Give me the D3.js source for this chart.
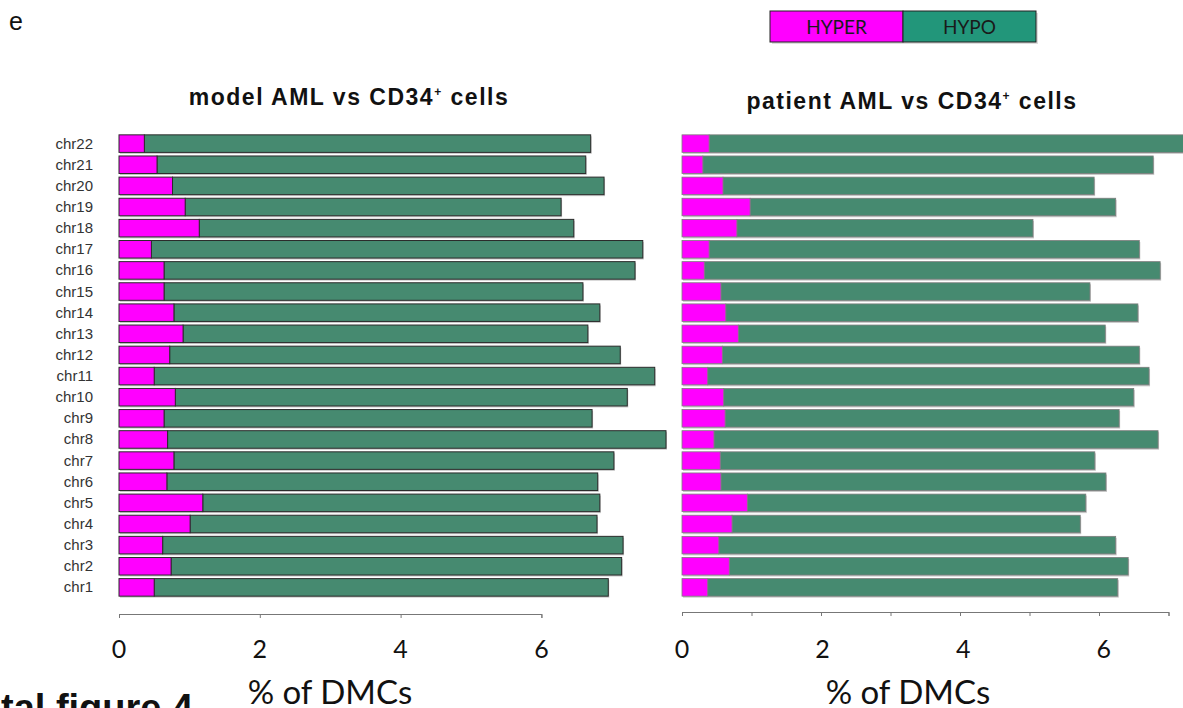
<!DOCTYPE html>
<html><head><meta charset="utf-8">
<script src="https://cdn.jsdelivr.net/npm/d3@7"></script>
<style>
html,body{margin:0;padding:0;background:#fff;overflow:hidden;}
svg{display:block;}
</style></head>
<body>
<svg id="c" width="1183" height="708"></svg>
<script>
// ---- data ----
const chromosomes = ["chr22","chr21","chr20","chr19","chr18","chr17","chr16","chr15","chr14","chr13","chr12","chr11","chr10","chr9","chr8","chr7","chr6","chr5","chr4","chr3","chr2","chr1"];
const seriesNames = ["HYPER","HYPO"];
// model AML vs CD34+ cells (% of DMCs)
const modelHyper = [0.36,0.54,0.76,0.94,1.14,0.46,0.64,0.64,0.78,0.91,0.72,0.50,0.80,0.64,0.69,0.78,0.68,1.19,1.01,0.62,0.74,0.50];
const modelTotal = [6.70,6.63,6.89,6.28,6.46,7.44,7.33,6.59,6.83,6.66,7.12,7.61,7.22,6.72,7.77,7.03,6.80,6.83,6.79,7.16,7.14,6.95];
// patient AML vs CD34+ cells (% of DMCs)
const patientHyper = [0.39,0.30,0.59,0.98,0.79,0.39,0.32,0.56,0.63,0.81,0.58,0.37,0.60,0.62,0.46,0.55,0.56,0.94,0.72,0.53,0.68,0.37];
const patientTotal = [7.40,6.78,5.93,6.24,5.05,6.58,6.88,5.87,6.56,6.09,6.58,6.72,6.50,6.29,6.85,5.94,6.10,5.81,5.73,6.24,6.42,6.27];
const modelHypo = modelTotal.map((t,i)=>+(t-modelHyper[i]).toFixed(2));
const patientHypo = patientTotal.map((t,i)=>+(t-patientHyper[i]).toFixed(2));
const leftTicks = [0,2,4,6];
const rightTicks = [0,1,2,3,4,5,6,7];
const rightTickLabels = [0,2,4,6];
const titles = ["model AML vs CD34", "patient AML vs CD34"];
const xTitle = "% of DMCs";

const svg = d3.select("#c");
const colHyper = "#ff00ff", colHypo = "#468a70", colLegHypo = "#22967a";

// panel label
svg.append("text").attr("x",9).attr("y",30).attr("font-family","Liberation Sans, Arial, sans-serif")
  .attr("font-size",25).attr("fill","#111").text("e");

// legend
const leg = svg.append("g");
const lx = d3.scaleBand().domain(seriesNames).range([770,1036]);
leg.append("rect").attr("x",772).attr("y",13).attr("width",266).attr("height",31).attr("fill","#bbb").attr("opacity",0.5);
leg.selectAll("rect.l").data(seriesNames).join("rect").attr("class","l")
  .attr("x",d=>lx(d)).attr("y",11).attr("width",lx.bandwidth()).attr("height",31)
  .attr("fill",(d,i)=>i===0?colHyper:colLegHypo).attr("stroke","#222").attr("stroke-width",1);
leg.selectAll("text").data(seriesNames).join("text")
  .attr("x",d=>lx(d)+lx.bandwidth()/2).attr("y",34).attr("text-anchor","middle")
  .attr("font-family","Lato, 'Open Sans', sans-serif").attr("font-size",19).attr("fill","#1a1a1a").text(d=>d);

function panel(cfg){
  const g = svg.append("g");
  const x = d3.scaleLinear().domain([0,cfg.axisMax]).range([cfg.x0, cfg.x0+cfg.unit*cfg.axisMax]);
  const y = d3.scaleBand().domain(chromosomes).range([134,597]).paddingInner(0.17).paddingOuter(0.04);
  const rows = chromosomes.map((c,i)=>({c, hyper:cfg.hyper[i], hypo:cfg.hypo[i]}));
  // shadows
  g.selectAll("rect.sh").data(rows).join("rect").attr("class","sh")
    .attr("x",d=>x(0)+1).attr("y",d=>y(d.c)+1.5)
    .attr("width",d=>x(d.hyper+d.hypo)-x(0)).attr("height",y.bandwidth())
    .attr("fill","#c8c8c8");
  // hypo
  g.selectAll("rect.hypo").data(rows).join("rect").attr("class","hypo")
    .attr("x",d=>x(d.hyper)).attr("y",d=>y(d.c))
    .attr("width",d=>x(d.hyper+d.hypo)-x(d.hyper)).attr("height",y.bandwidth())
    .attr("fill",colHypo).attr("stroke",cfg.stroke).attr("stroke-width",cfg.sw);
  // hyper
  g.selectAll("rect.hyper").data(rows).join("rect").attr("class","hyper")
    .attr("x",x(0)).attr("y",d=>y(d.c))
    .attr("width",d=>x(d.hyper)-x(0)).attr("height",y.bandwidth())
    .attr("fill",colHyper).attr("stroke",cfg.stroke).attr("stroke-width",cfg.sw);
  // x axis
  const axis = d3.axisBottom(x).tickValues(cfg.ticks).tickSize(4).tickSizeOuter(4).tickFormat("");
  const ag = g.append("g").attr("transform",`translate(0,${cfg.axisY})`).call(axis);
  ag.select(".domain").attr("stroke","#777");
  ag.selectAll(".tick line").attr("stroke","#777");
  g.selectAll("text.tl").data(cfg.labels).join("text").attr("class","tl")
    .attr("x",d=>x(d)+cfg.labelShift*d).attr("y",658).attr("text-anchor","middle")
    .attr("font-family","Lato, 'Open Sans', sans-serif").attr("font-size",25).attr("fill","#111").text(d=>d);
  g.append("text").attr("x",cfg.xTitleX).attr("y",704).attr("text-anchor","middle")
    .attr("font-family","Lato, 'Open Sans', sans-serif").attr("font-size",33).attr("fill","#111").text(xTitle);
  // title
  const t = g.append("text").attr("x",cfg.titleX).attr("y",cfg.titleY).attr("text-anchor","middle")
    .attr("font-family","Liberation Sans, Arial, sans-serif").attr("font-weight","bold").attr("font-size",23)
    .attr("letter-spacing",1.5).attr("fill","#111");
  t.append("tspan").text(cfg.title);
  t.append("tspan").attr("font-size",12).attr("dy",-9).text("+");
  t.append("tspan").attr("dy",9).text(" cells");
  if(cfg.yLabels){
    g.selectAll("text.yl").data(chromosomes).join("text").attr("class","yl")
      .attr("x",93).attr("y",d=>y(d)+y.bandwidth()/2+5).attr("text-anchor","end")
      .attr("font-family","Liberation Sans, Arial, sans-serif").attr("font-size",15).attr("fill","#333").text(d=>d);
  }
}

panel({x0:119, unit:70.4, axisMax:6, hyper:modelHyper, hypo:modelHypo, stroke:"#2b2b2b", sw:1,
  ticks:leftTicks, labels:leftTicks, labelShift:0, axisY:614, xTitleX:330, title:titles[0], titleX:349, titleY:105, yLabels:true});
panel({x0:682, unit:69.5, axisMax:7, hyper:patientHyper, hypo:patientHypo, stroke:"#7d7d7d", sw:0.8,
  ticks:rightTicks, labels:rightTickLabels, labelShift:0.8, axisY:612, xTitleX:908, title:titles[1], titleX:912, titleY:109, yLabels:false});

// cut-off figure caption at the bottom
svg.append("text").attr("x",1).attr("y",721).attr("font-family","Liberation Sans, Arial, sans-serif")
  .attr("font-weight","bold").attr("font-size",38).attr("fill","#111").text("tal figure 4");
</script>
</body></html>
